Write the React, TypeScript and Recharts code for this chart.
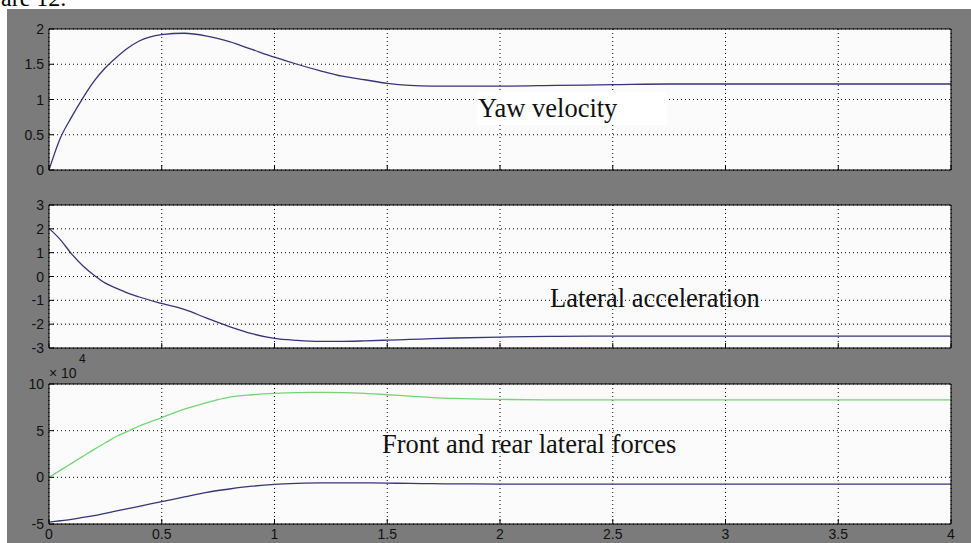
import React from 'react'
import { LineChart, Line, XAxis, YAxis, CartesianGrid } from 'recharts'

// time axis (s)
const time = [0, 0.05, 0.1, 0.15, 0.2, 0.25, 0.3, 0.35, 0.4, 0.5, 0.6, 0.7, 0.8, 0.9, 1.0, 1.1, 1.2, 1.3, 1.4, 1.5, 1.6, 1.7, 1.8, 2.0, 2.25, 2.5, 2.75, 3.0, 3.5, 4.0]
const yawVelocity = [0, 0.45, 0.75, 1.02, 1.26, 1.45, 1.6, 1.73, 1.83, 1.92, 1.94, 1.9, 1.82, 1.71, 1.6, 1.5, 1.41, 1.33, 1.28, 1.23, 1.2, 1.19, 1.19, 1.19, 1.2, 1.21, 1.22, 1.22, 1.22, 1.22]
const lateralAccel = [2.02, 1.55, 0.95, 0.45, 0.05, -0.28, -0.5, -0.7, -0.86, -1.13, -1.38, -1.75, -2.1, -2.4, -2.6, -2.68, -2.72, -2.72, -2.7, -2.67, -2.64, -2.61, -2.58, -2.54, -2.51, -2.5, -2.5, -2.5, -2.5, -2.5]
const rearForce = [0, 7500, 15000, 22500, 30000, 37000, 44000, 49500, 55000, 64000, 73000, 80000, 86000, 88500, 90000, 90800, 91000, 90800, 90000, 88500, 87000, 85500, 84500, 83500, 83000, 83000, 83000, 83000, 83000, 83000]
const frontForce = [-48000, -46500, -45000, -43000, -41000, -38500, -36000, -33500, -31000, -26000, -21000, -16000, -12500, -9500, -7500, -6500, -6000, -6000, -6000, -6200, -6500, -6800, -7000, -7200, -7200, -7200, -7200, -7200, -7200, -7200]

const timeTicks = [0, 0.5, 1, 1.5, 2, 2.5, 3, 3.5, 4]
const yawTicks = [0, 0.5, 1, 1.5, 2]
const accelTicks = [-3, -2, -1, 0, 1, 2, 3]
const forceTicks = [-50000, 0, 50000, 100000]

const rows = time.map((t, i) => ({ t, yaw: yawVelocity[i], acc: lateralAccel[i], rear: rearForce[i], front: frontForce[i] }))

const W = 971
const PLOT_RIGHT = 20
const AXIS_W = 49
const LABEL_FONT = '"Liberation Sans", Arial, sans-serif'
const SERIF = '"Liberation Serif", "Times New Roman", serif'
const NAVY = '#35357a'
const GREEN = '#72d672'

type Series = { key: string, color: string }

function YTick(props: any) {
  const { x, y, payload, fmt } = props
  return (
    <g>
      <line x1={x + 5} x2={x + 10} y1={y} y2={y} stroke="#000" />
      <text x={x} y={y} dy={5} textAnchor="end" fontSize={14} fontFamily={LABEL_FONT} fill="#111">{fmt(payload.value)}</text>
    </g>
  )
}

function XTick(props: any) {
  const { x, y, payload, showLabel } = props
  return (
    <g>
      <line x1={x} x2={x} y1={y - 4} y2={y - 9} stroke="#000" />
      {showLabel && <text x={x} y={y + 11} textAnchor="middle" fontSize={14} fontFamily={LABEL_FONT} fill="#111">{payload.value}</text>}
    </g>
  )
}

function Panel({ top, plotH, domain, ticks, series, showX, fmt }: {
  top: number, plotH: number, domain: [number, number], ticks: number[], series: Series[], showX: boolean, fmt: (v: number) => string
}) {
  return (
    <div style={{ position: 'absolute', left: 0, top: top - 10 }}>
      <LineChart width={W} height={plotH + 10 + 22} data={rows} margin={{ top: 10, right: PLOT_RIGHT, bottom: 0, left: 0 }}>
        <CartesianGrid stroke="#000" strokeDasharray="1 3" fill="#fbfbfb" fillOpacity={1} />
        <XAxis xAxisId={0} dataKey="t" type="number" domain={[0, 4]} ticks={timeTicks} height={22}
          axisLine={{ stroke: '#000' }} tickLine={false} tickSize={0} tickMargin={4}
          tick={<XTick showLabel={showX} />} interval={0} />
        <XAxis xAxisId="top" orientation="top" type="number" domain={[0, 4]} ticks={timeTicks} mirror
          axisLine={{ stroke: '#000' }} tickLine={{ stroke: '#000' }} tickSize={5} tick={false} />
        <YAxis yAxisId={0} type="number" domain={domain} ticks={ticks} width={AXIS_W} allowDataOverflow
          axisLine={{ stroke: '#000' }} tickLine={false} tickSize={0} tickMargin={5}
          tick={<YTick fmt={fmt} />} interval={0} />
        <YAxis yAxisId="right" orientation="right" type="number" domain={domain} ticks={ticks} mirror
          axisLine={{ stroke: '#000' }} tickLine={{ stroke: '#000' }} tickSize={5} tick={false} />
        {series.map(s => (
          <Line key={s.key} dataKey={s.key} type="monotone" stroke={s.color} strokeWidth={1.3} dot={false} isAnimationActive={false} />
        ))}
      </LineChart>
    </div>
  )
}

export default function App() {
  return (
    <div style={{ position: 'relative', width: W, height: 543, background: '#fff', overflow: 'hidden' }}>
      <style>{'body{margin:0}'}</style>
      <div style={{ position: 'absolute', left: 7, top: 9, width: W - 7, height: 543 - 9, background: '#7b7b7b' }} />
      <Panel top={29} plotH={141} domain={[0, 2]} ticks={yawTicks} series={[{ key: 'yaw', color: NAVY }]} showX={false} fmt={v => String(v)} />
      <Panel top={205} plotH={143} domain={[-3, 3]} ticks={accelTicks} series={[{ key: 'acc', color: NAVY }]} showX={false} fmt={v => String(v)} />
      <Panel top={384} plotH={140} domain={[-50000, 100000]} ticks={forceTicks} series={[{ key: 'rear', color: GREEN }, { key: 'front', color: NAVY }]} showX={true} fmt={v => String(v / 10000)} />
      <svg width={W} height={543} style={{ position: 'absolute', left: 0, top: 0, pointerEvents: 'none' }}>
        <text x={1} y={6} fontSize={24} fontFamily={SERIF} fill="#000">are 12.</text>
        <text x={49} y={378} fontSize={14} fontFamily={LABEL_FONT} fill="#111">× 10</text>
        <text x={79} y={363} fontSize={12} fontFamily={LABEL_FONT} fill="#111">4</text>
        <rect x={477} y={92} width={190} height={33} fill="#fff" />
        <text x={478} y={117} fontSize={26.5} fontFamily={SERIF} fill="#111">Yaw velocity</text>
        <text x={550} y={307} fontSize={26.5} fontFamily={SERIF} fill="#111">Lateral acceleration</text>
        <text x={382} y={453} fontSize={26.5} fontFamily={SERIF} fill="#111">Front and rear lateral forces</text>
      </svg>
    </div>
  )
}
